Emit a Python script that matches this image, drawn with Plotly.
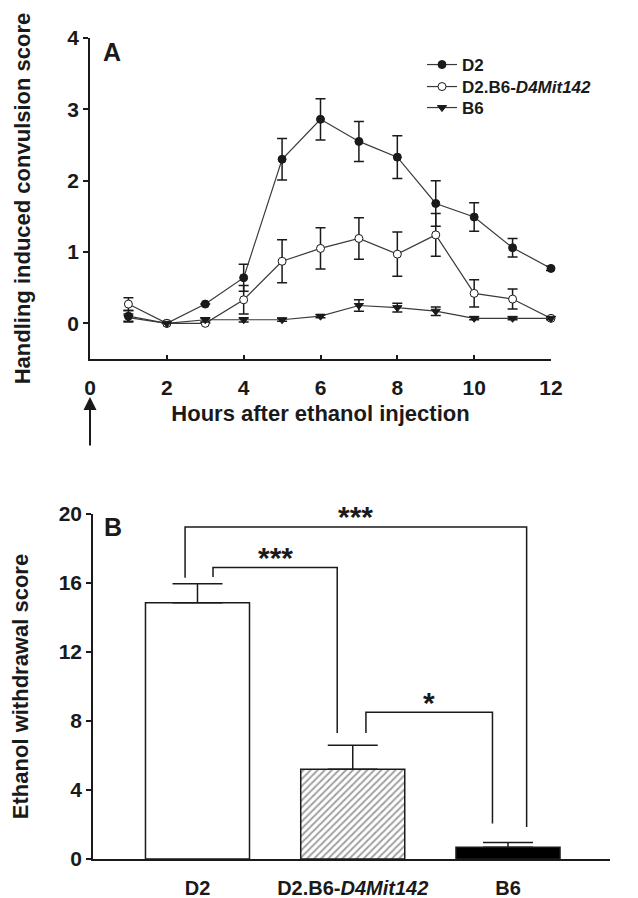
import plotly.graph_objects as go

# ---------------- Data: Panel A ----------------
hours = [1, 2, 3, 4, 5, 6, 7, 8, 9, 10, 11, 12]
d2_mean = [0.10, 0.00, 0.27, 0.64, 2.30, 2.86, 2.55, 2.33, 1.68, 1.49, 1.06, 0.77]
d2_sem = [0.08, 0.00, 0.00, 0.19, 0.29, 0.29, 0.28, 0.30, 0.32, 0.20, 0.13, 0.03]
cong_mean = [0.27, 0.00, 0.00, 0.33, 0.87, 1.05, 1.19, 0.97, 1.24, 0.42, 0.34, 0.07]
cong_sem = [0.09, 0.00, 0.00, 0.20, 0.30, 0.29, 0.29, 0.31, 0.30, 0.19, 0.14, 0.00]
b6_mean = [0.08, 0.00, 0.05, 0.05, 0.05, 0.10, 0.25, 0.22, 0.17, 0.07, 0.07, 0.07]
b6_sem = [0.05, 0.00, 0.03, 0.03, 0.02, 0.02, 0.08, 0.06, 0.06, 0.02, 0.02, 0.02]
x_ticks_a = [0, 2, 4, 6, 8, 10, 12]
y_ticks_a = [0, 1, 2, 3, 4]

# ---------------- Data: Panel B ----------------
groups = ["D2", "D2.B6-<i>D4Mit142</i>", "B6"]
withdrawal_mean = [14.85, 5.2, 0.68]
withdrawal_sem = [1.1, 1.4, 0.28]
y_ticks_b = [0, 4, 8, 12, 16, 20]
# comparisons: (group i, group j, bracket top value, label)
comparisons = [(0, 2, 19.25, "***"), (0, 1, 16.9, "***"), (1, 2, 8.5, "*")]

# ---------------- Style ----------------
W, H = 638, 898
FONT = "Liberation Sans, Arial, sans-serif"
INK = "#1a1a1a"
LINE = "#3a3a3a"


def px_x(p):
    return p / W


def px_y(p):
    return 1 - p / H


fig = go.Figure()

err_style = dict(type="data", visible=True, color=INK, thickness=1.5, width=5)
series = [
    ("D2", d2_mean, d2_sem, "circle", INK, "legend"),
    ("D2.B6-<i>D4Mit142</i>", cong_mean, cong_sem, "circle", "white", "legend2"),
    ("B6", b6_mean, b6_sem, "triangle-down", INK, "legend3"),
]
for name, mean, sem, sym, fill, leg in series:
    fig.add_trace(go.Scatter(
        x=hours, y=mean, name=f"<b>{name}</b>", mode="lines+markers",
        line=dict(color=LINE, width=1.2),
        marker=dict(symbol=sym, size=8, color=fill, line=dict(color=INK, width=1)),
        error_y=dict(array=sem, **err_style), cliponaxis=False,
        legend=leg, xaxis="x", yaxis="y"))

# Panel B bars
xpos = list(range(len(groups)))
fig.add_trace(go.Bar(
    x=xpos, y=withdrawal_mean, width=0.67, showlegend=False,
    marker=dict(color=["white", "white", "black"],
                line=dict(color=INK, width=1.5),
                pattern=dict(shape=["", "/", ""], fgcolor="black", bgcolor="white",
                             size=5, solidity=0.4)),
    error_y=dict(type="data", symmetric=False, array=withdrawal_sem,
                 arrayminus=[0] * len(groups), color=INK, thickness=1.5, width=25),
    xaxis="x2", yaxis="y2"))

# Significance brackets (computed from the bar data)
leg_offsets = {(0, 2): (-0.08, 0.12), (0, 1): (0.10, -0.10), (1, 2): (0.085, -0.10)}
leg_gaps = {(0, 2): (0.35, 0.9), (0, 1): (0.4, 0.7), (1, 2): (0.7, 1.1)}
shapes = []
annotations = []
for i, j, top, label in comparisons:
    oi, oj = leg_offsets[(i, j)]
    gi, gj = leg_gaps[(i, j)]
    xi, xj = xpos[i] + oi, xpos[j] + oj
    yi = withdrawal_mean[i] + withdrawal_sem[i] + gi
    yj = withdrawal_mean[j] + withdrawal_sem[j] + gj
    shapes.append(dict(type="path", xref="x2", yref="y2",
                       path=f"M {xi},{yi} L {xi},{top} L {xj},{top} L {xj},{yj}",
                       line=dict(color=INK, width=1.5)))
    annotations.append(dict(x=(xi + xj) / 2, y=top, xref="x2", yref="y2",
                            text=f"<b>{label}</b>", showarrow=False, yanchor="middle", yshift=10,
                            font=dict(family=FONT, size=30, color=INK)))

# Panel letters
annotations.append(dict(x=px_x(112), y=px_y(52), xref="paper", yref="paper", text="<b>A</b>",
                        showarrow=False, xanchor="center", yanchor="middle",
                        font=dict(family=FONT, size=25, color=INK)))
annotations.append(dict(x=px_x(113), y=px_y(527), xref="paper", yref="paper", text="<b>B</b>",
                        showarrow=False, xanchor="center", yanchor="middle",
                        font=dict(family=FONT, size=25, color=INK)))
# Injection arrow at time 0
annotations.append(dict(x=0, y=px_y(397), xref="x", yref="paper", ax=0, ay=50,
                        text="", showarrow=True, arrowhead=2, arrowsize=1.3,
                        arrowwidth=2, arrowcolor=INK))

tickfont = dict(family=FONT, size=21, color=INK)
titlefont = dict(family=FONT, size=22, color=INK)
legfont = dict(family=FONT, size=17, color=INK)

leg_common = dict(x=px_x(422), xanchor="left", yanchor="middle", bgcolor="rgba(0,0,0,0)",
                  font=legfont, itemwidth=30, borderwidth=0)

fig.update_layout(
    width=W, height=H, margin=dict(l=0, r=0, t=0, b=0),
    paper_bgcolor="white", plot_bgcolor="white",
    font=dict(family=FONT, color=INK),
    shapes=shapes, annotations=annotations,
    legend=dict(y=px_y(65), **leg_common),
    legend2=dict(y=px_y(87), **leg_common),
    legend3=dict(y=px_y(108), **leg_common),
    xaxis=dict(domain=[px_x(90), px_x(551)], range=[0, 12], tickvals=x_ticks_a,
               ticktext=[f"<b>{v}</b>" for v in x_ticks_a],
               ticks="inside", ticklen=4, tickwidth=1.5, tickcolor=INK,
               showline=True, linecolor=INK, linewidth=1.5, showgrid=False, zeroline=False,
               tickfont=tickfont, ticklabelstandoff=9, anchor="y", automargin=False,
               title=dict(text="<b>Hours after ethanol injection</b>", font=titlefont, standoff=8)),
    yaxis=dict(domain=[px_y(359), px_y(38)], range=[-0.5, 4], tickvals=y_ticks_a,
               ticktext=[f"<b>{v}</b>" for v in y_ticks_a],
               ticks="outside", ticklen=5, tickwidth=1.5, tickcolor=INK,
               showline=True, linecolor=INK, linewidth=1.5, showgrid=False, zeroline=False,
               tickfont=tickfont, anchor="x", automargin=False,
               title=dict(text="<b>Handling induced convulsion score</b>", font=titlefont, standoff=31)),
    xaxis2=dict(domain=[px_x(93), px_x(610)], range=[-0.673, 2.657], tickvals=xpos,
                ticktext=[f"<b>{g}</b>" for g in groups], ticks="",
                showline=True, linecolor=INK, linewidth=1.5, showgrid=False, zeroline=False,
                tickfont=dict(family=FONT, size=20, color=INK), ticklabelstandoff=10,
                anchor="y2", automargin=False),
    yaxis2=dict(domain=[px_y(859), px_y(514)], range=[0, 20], tickvals=y_ticks_b,
                ticktext=[f"<b>{v}</b>" for v in y_ticks_b],
                ticks="outside", ticklen=5, tickwidth=1.5, tickcolor=INK,
                showline=True, linecolor=INK, linewidth=1.5, showgrid=False, zeroline=False,
                tickfont=tickfont, anchor="x2", automargin=False,
                title=dict(text="<b>Ethanol withdrawal score</b>", font=titlefont, standoff=24)),
)

fig.write_html("out.html", config={"displayModeBar": False},
               post_script="document.body.style.margin='0px';")
